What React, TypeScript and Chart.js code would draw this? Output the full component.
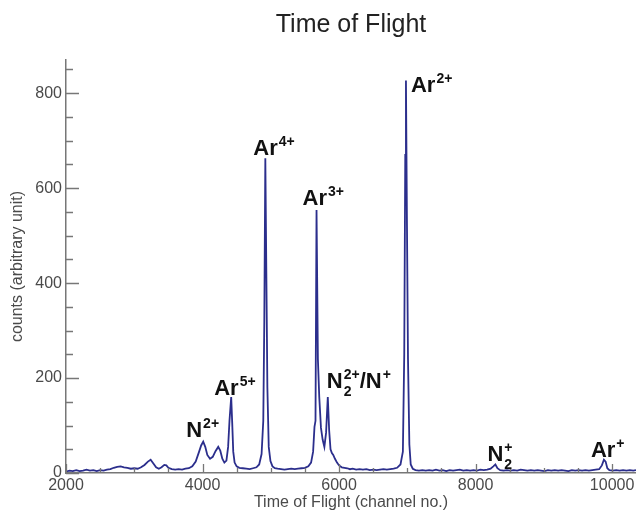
import { useEffect, useRef } from "react";
import { Chart, registerables } from "chart.js";

Chart.register(...registerables);

// Time-of-flight spectrum: channel number vs. counts
const channels = [
  2000, 2050, 2100, 2150, 2200, 2250, 2300, 2350, 2400, 2450, 2500, 2550, 2600, 2650,
  2700, 2750, 2800, 2850, 2900, 2950, 3000, 3050, 3100, 3150, 3200, 3240, 3280, 3320,
  3360, 3400, 3440, 3470, 3500, 3550, 3600, 3650, 3700, 3750, 3800, 3850, 3900, 3950,
  3980, 4010, 4040, 4070, 4110, 4150, 4190, 4230, 4260, 4290, 4320, 4350, 4375, 4395,
  4420, 4435, 4450, 4470, 4500, 4540, 4590, 4640, 4690, 4740, 4790, 4830, 4865, 4890,
  4905, 4920, 4935, 4950, 4970, 4995, 5025, 5060, 5100, 5150, 5200, 5250, 5300, 5350,
  5400, 5450, 5500, 5550, 5590, 5620, 5640, 5655, 5670, 5690, 5710, 5735, 5760, 5785,
  5810, 5835, 5855, 5875, 5895, 5915, 5940, 5970, 6000, 6040, 6080, 6120, 6160, 6200,
  6250, 6300, 6350, 6400, 6450, 6500, 6550, 6600, 6650, 6700, 6750, 6800, 6850, 6900,
  6935, 6955, 6970, 6980, 6995, 7010, 7030, 7050, 7080, 7120, 7170, 7220, 7270, 7320,
  7370, 7420, 7470, 7520, 7570, 7620, 7670, 7720, 7770, 7820, 7870, 7920, 7970, 8020,
  8070, 8120, 8170, 8220, 8260, 8290, 8320, 8360, 8410, 8460, 8510, 8560, 8610, 8660,
  8710, 8760, 8810, 8860, 8910, 8960, 9010, 9060, 9110, 9160, 9210, 9260, 9310, 9360,
  9410, 9460, 9510, 9560, 9610, 9660, 9710, 9760, 9810, 9850, 9880, 9905, 9930, 9960,
  10010, 10060, 10110, 10160, 10210, 10260, 10310, 10350,
];

const counts = [
  3, 5, 4, 6, 4, 5, 7, 5, 6, 4, 6, 5, 7, 8,
  11, 13, 14, 12, 11, 9, 10, 9, 12, 17, 24, 28, 20, 12,
  9, 12, 17, 16, 11, 8, 7, 8, 7, 9, 10, 14, 24, 45,
  58, 66, 55, 38, 30, 34, 46, 55, 47, 30, 22, 26, 55, 110,
  160, 105, 45, 22, 14, 11, 10, 9, 8, 10, 12, 18, 40, 110,
  320, 663, 420, 180, 55, 25, 14, 10, 9, 8, 7, 8, 9, 8,
  9, 10, 11, 14, 22, 45, 97, 110, 554, 240, 160, 95, 70, 55,
  85, 160, 90, 50, 42, 38, 30, 22, 16, 12, 11, 10, 8, 9,
  7, 8, 7, 8, 6, 7, 6, 7, 8, 7, 8, 9, 11, 18,
  45, 250, 670, 827, 520, 240, 60, 18, 9, 6, 5, 6, 5, 6,
  5, 7, 5, 6, 4, 6, 5, 6, 7, 5, 6, 5, 6, 5,
  7, 6, 7, 9, 14, 18, 10, 6, 5, 6, 5, 6, 5, 7,
  6, 5, 6, 5, 6, 5, 4, 6, 5, 6, 5, 6, 5, 4,
  6, 5, 6, 5, 6, 5, 6, 7, 8, 16, 28, 24, 10, 6,
  5, 6, 5, 6, 5, 6, 5, 6,
];

const xTickValues = [2000, 4000, 6000, 8000, 10000];
const yTickValues = [0, 200, 400, 600, 800];
const xMinorStep = 500;
const yMinorStep = 50;

// Ion assignments; each label sits on the peak at the given channel
type Segment = { base: string; sup?: string; sub?: string };
const peakChannels = [4010, 4420, 4920, 5670, 5835, 6980, 8290, 9880];
const peakNames: Segment[][] = [
  [{ base: "N", sup: "2+" }],
  [{ base: "Ar", sup: "5+" }],
  [{ base: "Ar", sup: "4+" }],
  [{ base: "Ar", sup: "3+" }],
  [{ base: "N", sup: "2+", sub: "2" }, { base: "/N", sup: "+" }],
  [{ base: "Ar", sup: "2+" }],
  [{ base: "N", sup: "+", sub: "2" }],
  [{ base: "Ar", sup: "+" }],
];

const FAMILY = "'Liberation Sans', Arial, Helvetica, sans-serif";
const LINE_COLOR = "#2b2e8c";
const AXIS_COLOR = "#777";
const TEXT_GRAY = "#4a4a4a";

// text placement relative to each peak top (pixels)
const labelOffsets: [number, number][] = [
  [-17, -5],
  [-17, -2],
  [-12, -3],
  [-14, -5],
  [-1, -9],
  [5, 12],
  [-8, -3],
  [-13, -3],
];

const decorPlugin = {
  id: "tofDecor",
  afterDatasetsDraw(chart: any) {
    const { ctx, chartArea } = chart;
    const xs = chart.scales.x;
    const ys = chart.scales.y;
    ctx.save();

    // inward tick marks
    ctx.strokeStyle = AXIS_COLOR;
    ctx.lineWidth = 1.3;
    ctx.beginPath();
    for (let v = xs.min; v <= xs.max; v += xMinorStep) {
      const px = Math.round(xs.getPixelForValue(v)) + 0.5;
      const len = xTickValues.includes(v) ? 9 : 5;
      ctx.moveTo(px, chartArea.bottom);
      ctx.lineTo(px, chartArea.bottom - len);
    }
    for (let v = 0; v <= ys.max; v += yMinorStep) {
      const py = Math.round(ys.getPixelForValue(v)) + 0.5;
      const len = yTickValues.includes(v) ? 13 : 7;
      ctx.moveTo(chartArea.left, py);
      ctx.lineTo(chartArea.left + len, py);
    }
    ctx.stroke();

    // ion labels
    ctx.fillStyle = "#111";
    ctx.textBaseline = "alphabetic";
    ctx.textAlign = "left";
    const mainFont = `bold 22px ${FAMILY}`;
    const smallFont = `bold 14px ${FAMILY}`;
    peakChannels.forEach((ch, i) => {
      const idx = channels.indexOf(ch);
      const px = xs.getPixelForValue(ch);
      const py = ys.getPixelForValue(counts[idx]);
      let x = px + labelOffsets[i][0];
      const y = py + labelOffsets[i][1];
      for (const seg of peakNames[i]) {
        ctx.font = mainFont;
        ctx.fillText(seg.base, x, y);
        x += ctx.measureText(seg.base).width;
        ctx.font = smallFont;
        let w = 0;
        if (seg.sup) {
          ctx.fillText(seg.sup, x + 1, y - 9);
          w = Math.max(w, ctx.measureText(seg.sup).width + 1);
        }
        if (seg.sub) {
          ctx.fillText(seg.sub, x + 1, y + 8);
          w = Math.max(w, ctx.measureText(seg.sub).width + 1);
        }
        x += w;
      }
    });
    ctx.restore();
  },
};

export default function App() {
  const canvasRef = useRef<HTMLCanvasElement | null>(null);

  useEffect(() => {
    const canvas = canvasRef.current;
    if (!canvas) return;
    const points = channels.map((c, i) => ({ x: c, y: counts[i] }));
    const tickFont = { family: FAMILY, size: 16 };
    const plain = (v: any) => String(v);

    const chart = new Chart(canvas, {
      type: "line",
      data: {
        datasets: [
          {
            data: points,
            borderColor: LINE_COLOR,
            borderWidth: 1.8,
            pointRadius: 0,
            tension: 0,
            fill: false,
          },
        ],
      },
      options: {
        animation: false,
        responsive: false,
        parsing: false,
        layout: { padding: 0 },
        plugins: {
          legend: { display: false },
          tooltip: { enabled: false },
          title: {
            display: true,
            text: "Time of Flight",
            fullSize: false,
            color: "#222",
            font: { family: FAMILY, size: 25, weight: "normal" },
            padding: { top: 10, bottom: 20 },
          },
        },
        scales: {
          x: {
            type: "linear",
            min: 2000,
            max: 10350,
            afterBuildTicks: (s: any) => {
              s.ticks = xTickValues.map((v) => ({ value: v }));
            },
            afterFit: (s: any) => {
              s.height = 41;
              s.paddingLeft = 0;
              s.paddingRight = 0;
            },
            ticks: {
              font: tickFont,
              color: TEXT_GRAY,
              padding: 3,
              maxRotation: 0,
              autoSkip: false,
              callback: plain,
            },
            grid: { display: true, drawOnChartArea: false, drawTicks: false },
            border: { color: AXIS_COLOR, width: 1.5 },
            title: {
              display: true,
              text: "Time of Flight (channel no.)",
              color: TEXT_GRAY,
              font: { family: FAMILY, size: 16 },
              padding: { top: 0, bottom: 2 },
            },
          },
          y: {
            type: "linear",
            min: 0,
            max: 870,
            afterBuildTicks: (s: any) => {
              s.ticks = yTickValues.map((v) => ({ value: v }));
            },
            afterFit: (s: any) => {
              s.width = 66;
              s.paddingTop = 0;
              s.paddingBottom = 0;
            },
            ticks: {
              font: tickFont,
              color: TEXT_GRAY,
              padding: 4,
              autoSkip: false,
              callback: plain,
            },
            grid: { display: true, drawOnChartArea: false, drawTicks: false },
            border: { color: AXIS_COLOR, width: 1.5 },
            title: {
              display: true,
              text: "counts (arbitrary unit)",
              color: TEXT_GRAY,
              font: { family: FAMILY, size: 16 },
              padding: { top: 8, bottom: 0 },
            },
          },
        },
      },
      plugins: [decorPlugin],
    } as any);

    return () => chart.destroy();
  }, []);

  return (
    <div style={{ position: "fixed", left: 0, top: 0, width: 636, height: 514, background: "#fff" }}>
      <canvas ref={canvasRef} width={636} height={514} />
    </div>
  );
}
